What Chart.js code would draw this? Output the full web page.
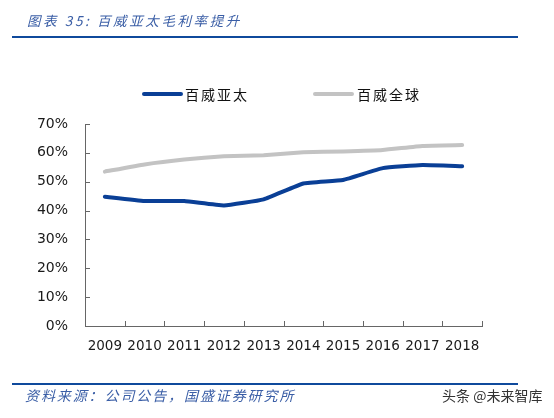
<!DOCTYPE html>
<html>
<head>
<meta charset="utf-8">
<script src="https://cdn.jsdelivr.net/npm/chart.js@4/dist/chart.umd.min.js"></script>
<style>
  html, body { margin: 0; padding: 0; background: #fff; }
  #wrap { position: relative; width: 554px; height: 418px; overflow: hidden; font-family: "Noto Sans CJK SC", sans-serif; }
  #c { position: absolute; left: 0; top: 0; }
  .title { position: absolute; left: 27px; top: 10px; font-size: 13.5px; letter-spacing: 2.6px; font-style: italic; color: #3a5ea6; line-height: 20px; white-space: nowrap; }
  .rule { position: absolute; left: 12px; width: 506px; height: 2px; background: #0f4a9c; }
  .legend { position: absolute; top: 84px; left: 0; width: 554px; height: 20px; }
  .lline { position: absolute; top: 8px; width: 41px; height: 4px; border-radius: 2px; }
  .ltext { position: absolute; top: 0; font-size: 14px; letter-spacing: 2px; line-height: 20px; color: #111; white-space: nowrap; }
  .source { position: absolute; left: 25px; top: 385px; font-size: 14px; letter-spacing: 1.9px; font-style: italic; color: #3a5ea6; line-height: 20px; white-space: nowrap; }
  .wm { position: absolute; left: 442px; top: 385px; font-size: 14px; color: #333; line-height: 20px; white-space: nowrap; }
</style>
</head>
<body>
<div id="wrap">
  <canvas id="c" width="554" height="418"></canvas>
  <div class="title">图表 35:&nbsp;百威亚太毛利率提升</div>
  <div class="rule" style="top:36px"></div>
  <div class="legend" id="legend"></div>
  <div class="rule" style="top:383px"></div>
  <div class="source">资料来源：公司公告，国盛证券研究所</div>
  <div class="wm">头条 @未来智库</div>
</div>
<script>
const categories = ["2009","2010","2011","2012","2013","2014","2015","2016","2017","2018"];
const seriesNames = ["百威亚太", "百威全球"];
const apacValues = [44.8, 43.3, 43.3, 41.8, 43.9, 49.4, 50.6, 54.7, 55.8, 55.4];
const globalValues = [53.5, 56.0, 57.7, 58.8, 59.2, 60.2, 60.5, 61.0, 62.4, 62.7];
const yTicks = [0, 10, 20, 30, 40, 50, 60, 70];
const seriesColors = ["#0a3f96", "#c3c3c3"];

// legend (HTML)
const legendPos = [{line: 142, text: 185}, {line: 313, text: 357}];
const legend = document.getElementById('legend');
seriesNames.forEach((n, i) => {
  const l = document.createElement('div');
  l.className = 'lline';
  l.style.left = legendPos[i].line + 'px';
  l.style.background = seriesColors[i];
  const t = document.createElement('div');
  t.className = 'ltext';
  t.style.left = legendPos[i].text + 'px';
  t.textContent = n;
  legend.appendChild(l);
  legend.appendChild(t);
});

const innerTicks = {
  id: 'innerTicks',
  afterDraw(chart) {
    const ctx = chart.ctx;
    const x = chart.scales.x, y = chart.scales.y;
    ctx.save();
    ctx.strokeStyle = '#666';
    ctx.lineWidth = 1;
    ctx.beginPath();
    y.ticks.forEach((t, i) => {
      const py = Math.round(y.getPixelForTick(i)) + 0.5;
      ctx.moveTo(x.left, py);
      ctx.lineTo(x.left + 5, py);
    });
    const step = x.getPixelForValue(1) - x.getPixelForValue(0);
    for (let i = 0; i < categories.length; i++) {
      const px = Math.round(x.getPixelForValue(i) + step / 2) + 0.5;
      ctx.moveTo(px, y.bottom);
      ctx.lineTo(px, y.bottom - 5);
    }
    ctx.stroke();
    ctx.restore();
  }
};

new Chart(document.getElementById('c'), {
  type: 'line',
  data: {
    labels: categories,
    datasets: [
      { label: seriesNames[0], data: apacValues, borderColor: seriesColors[0], backgroundColor: seriesColors[0], borderWidth: 4, pointRadius: 0, tension: 0.12, borderCapStyle: 'round', borderJoinStyle: 'round' },
      { label: seriesNames[1], data: globalValues, borderColor: seriesColors[1], backgroundColor: seriesColors[1], borderWidth: 4, pointRadius: 0, tension: 0.12, borderCapStyle: 'round', borderJoinStyle: 'round' }
    ]
  },
  options: {
    responsive: false,
    animation: false,
    devicePixelRatio: 1,
    layout: { padding: { left: 0, top: 124, right: 72, bottom: 0 } },
    plugins: { legend: { display: false }, tooltip: { enabled: false } },
    scales: {
      x: {
        offset: true,
        grid: { display: false, drawTicks: false },
        border: { display: true, color: '#666', width: 1 },
        ticks: { color: '#1a1a1a', font: { family: 'DejaVu Sans', size: 13.5 }, padding: 12, maxRotation: 0, autoSkip: false },
        afterFit(s) { s.height = 92; }
      },
      y: {
        min: 0, max: 70,
        afterBuildTicks(s) { s.ticks = yTicks.map(v => ({ value: v })); },
        grid: { display: false, drawTicks: false },
        border: { display: true, color: '#666', width: 1 },
        ticks: { color: '#1a1a1a', font: { family: 'DejaVu Sans', size: 14 }, padding: 17, callback: v => v + '%' },
        afterFit(s) { s.width = 85; }
      }
    }
  },
  plugins: [innerTicks]
});
</script>
</body>
</html>
